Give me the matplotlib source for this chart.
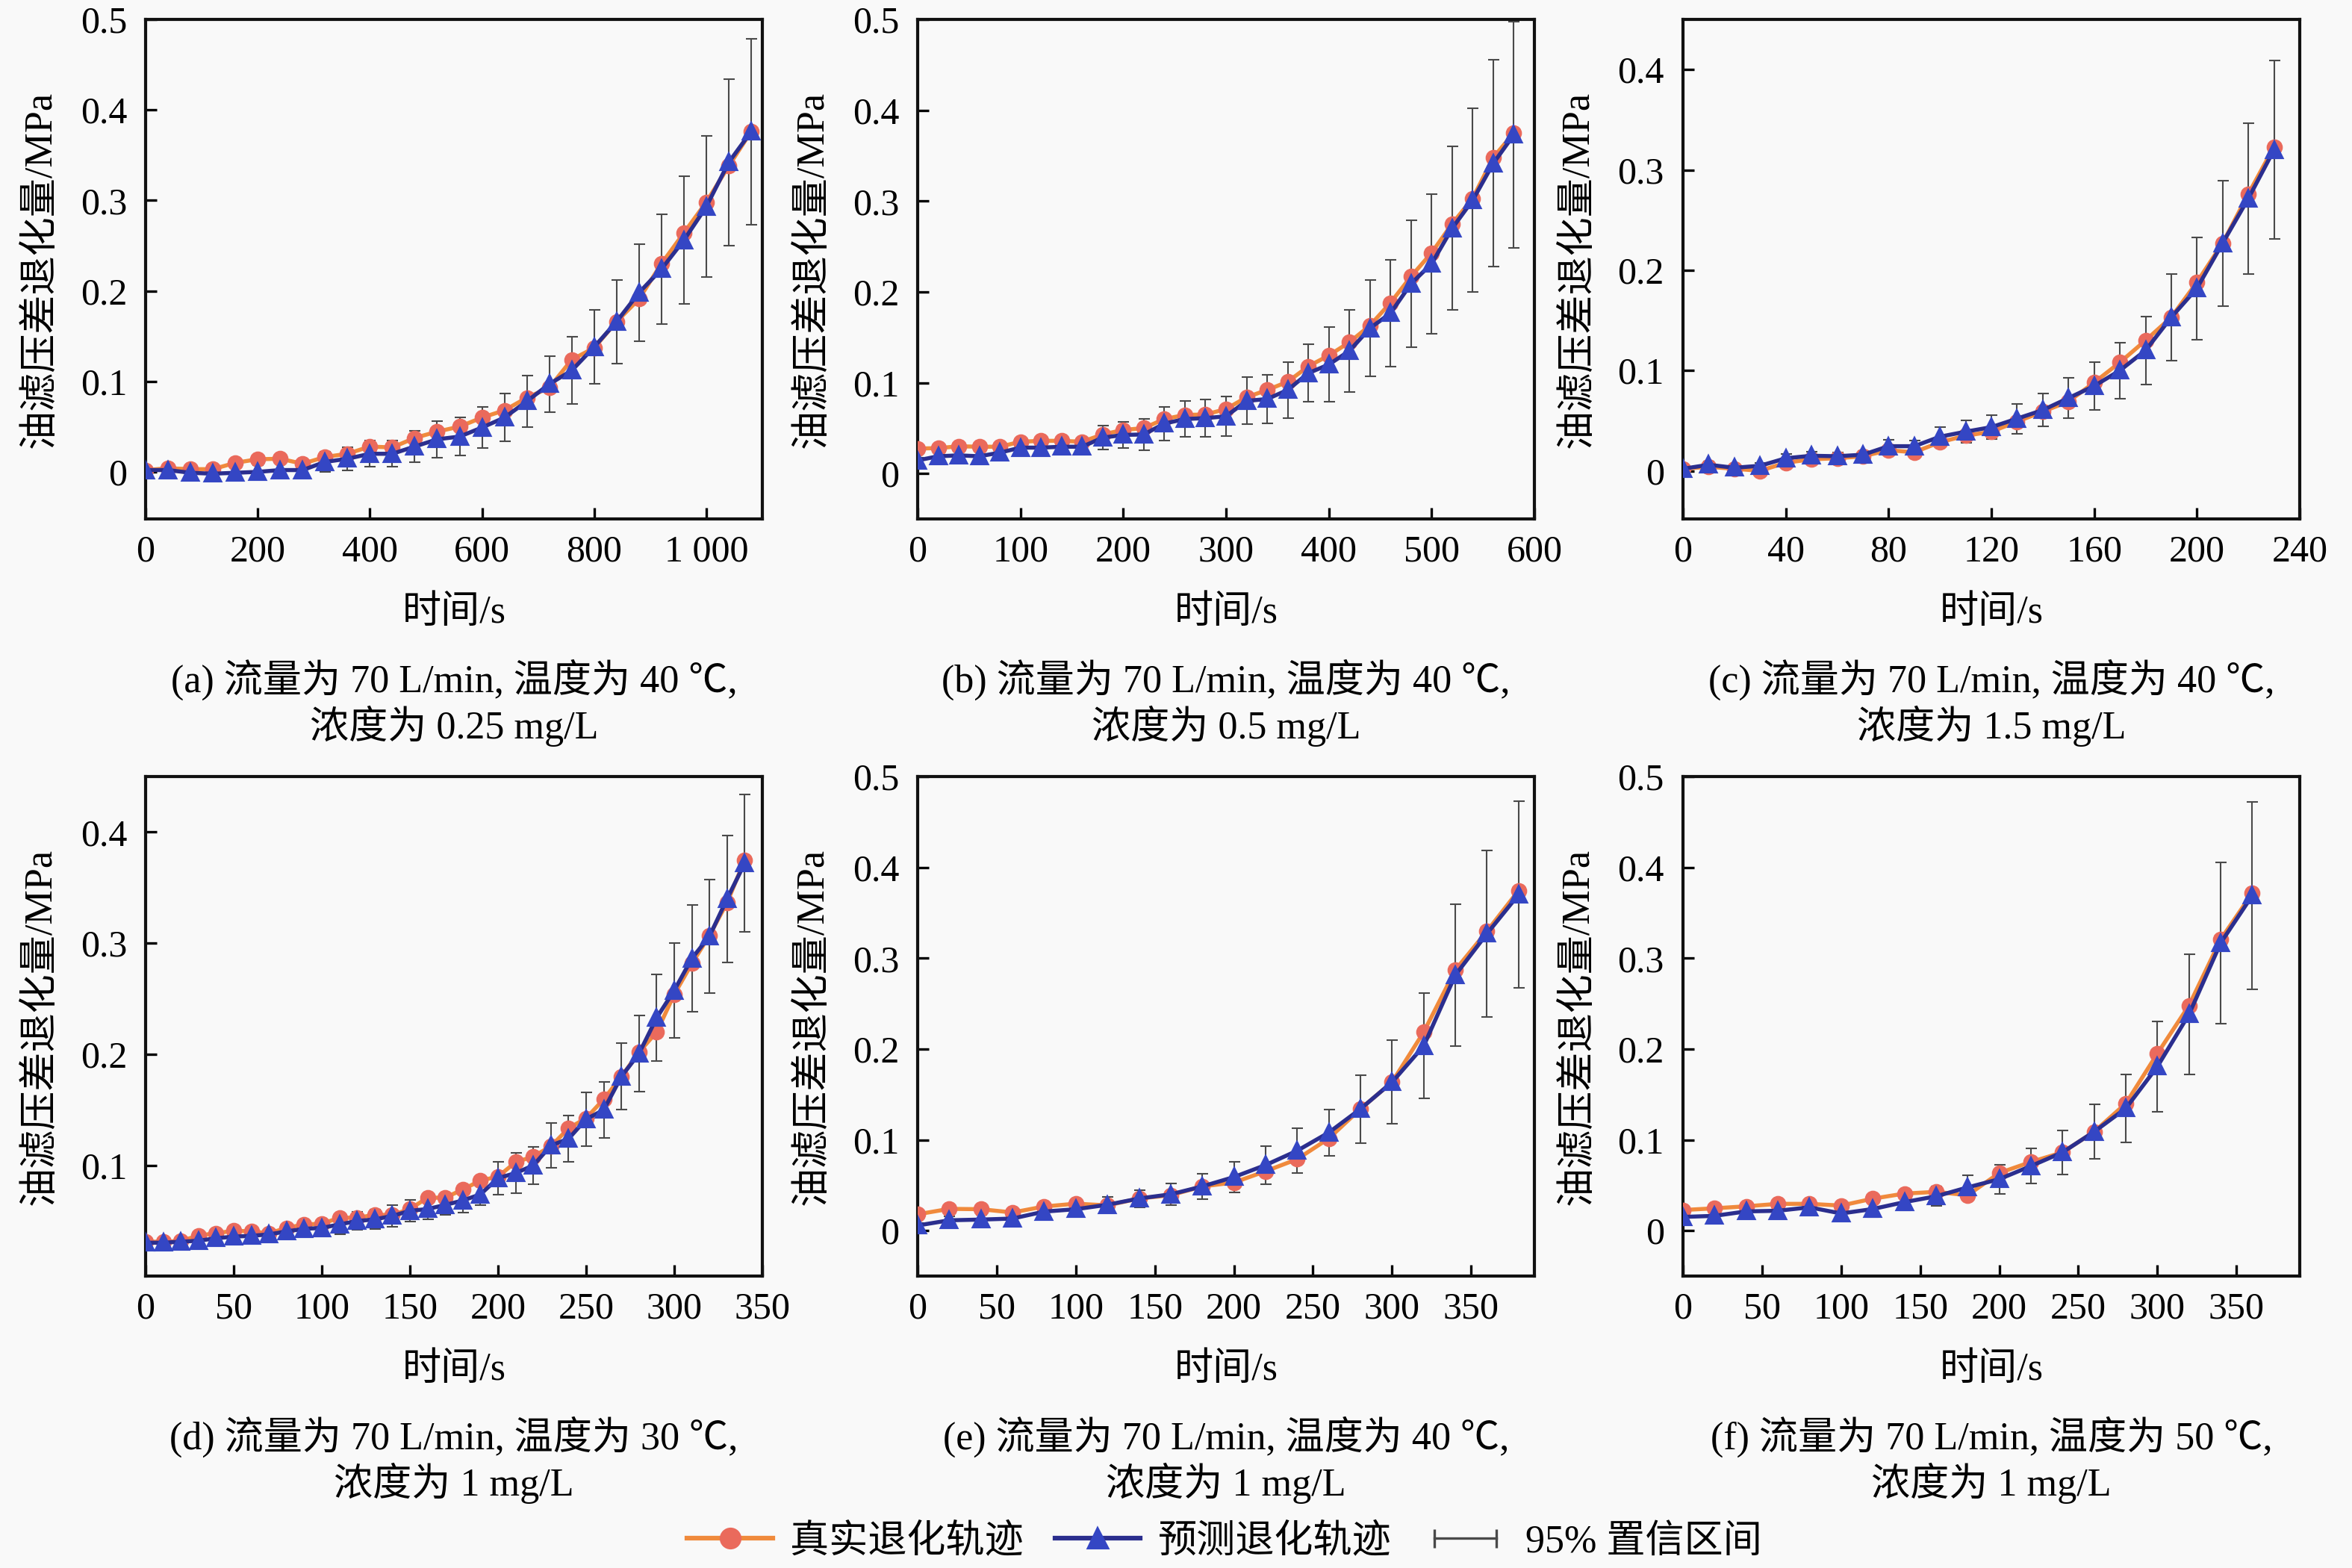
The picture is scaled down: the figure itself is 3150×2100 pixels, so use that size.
import numpy as np
import matplotlib
matplotlib.use("Agg")
import matplotlib.pyplot as plt
from matplotlib.lines import Line2D
from matplotlib.legend_handler import HandlerLine2D
from matplotlib.ticker import FuncFormatter

plt.rcParams['font.family'] = ['Liberation Serif', 'Noto Sans CJK SC']
plt.rcParams['axes.unicode_minus'] = False

# ---------------- data ----------------
t_a = [0, 40, 80, 120, 160, 200, 240, 280, 320, 360, 400, 440, 480, 520, 560, 600,
       640, 680, 720, 760, 800, 840, 880, 920, 960, 1000, 1040, 1080]
true_a = [0.002, 0.004, 0.003, 0.003, 0.010, 0.014, 0.0145, 0.009, 0.0165, 0.020, 0.028, 0.027,
          0.0375, 0.0445, 0.050, 0.060, 0.068, 0.082, 0.093, 0.124, 0.137, 0.166, 0.191, 0.230,
          0.264, 0.298, 0.338, 0.376]
pred_a = [0.002, 0.002, -0.001, -0.002, -0.001, 0.000, 0.002, 0.002, 0.011, 0.0145, 0.020, 0.020,
          0.028, 0.036, 0.039, 0.049, 0.060, 0.078, 0.097, 0.112, 0.138, 0.166, 0.198, 0.224,
          0.256, 0.293, 0.342, 0.376]
err_a = [0.0, 0.003, 0.005, 0.005, 0.006, 0.007, 0.008, 0.009, 0.011, 0.013, 0.0145, 0.0145,
         0.0175, 0.020, 0.021, 0.0225, 0.0265, 0.0285, 0.031, 0.037, 0.041, 0.046, 0.054, 0.0605,
         0.0705, 0.078, 0.092, 0.1025]

t_b = [0, 20, 40, 60, 80, 100, 120, 140, 160, 180, 200, 220, 240, 260, 280, 300, 320, 340,
       360, 380, 400, 420, 440, 460, 480, 500, 520, 540, 560, 580]
true_b = [0.0275, 0.028, 0.030, 0.0295, 0.0295, 0.035, 0.036, 0.036, 0.035, 0.043, 0.048, 0.050,
          0.060, 0.0645, 0.065, 0.071, 0.084, 0.092, 0.101, 0.118, 0.130, 0.1445, 0.163, 0.188,
          0.217, 0.243, 0.275, 0.303, 0.348, 0.375]
pred_b = [0.0145, 0.019, 0.020, 0.019, 0.023, 0.0285, 0.0285, 0.0295, 0.0295, 0.0395, 0.0425,
          0.043, 0.055, 0.060, 0.061, 0.063, 0.080, 0.082, 0.092, 0.1105, 0.120, 0.135, 0.160,
          0.1765, 0.209, 0.231, 0.270, 0.301, 0.3415, 0.373]
err_b = [0.003, 0.005, 0.005, 0.006, 0.006, 0.007, 0.007, 0.007, 0.007, 0.013, 0.014, 0.017,
         0.0185, 0.0195, 0.0205, 0.0215, 0.026, 0.027, 0.031, 0.0315, 0.041, 0.045, 0.053, 0.059,
         0.070, 0.077, 0.090, 0.101, 0.114, 0.1245]

t_c = [0, 10, 20, 30, 40, 50, 60, 70, 80, 90, 100, 110, 120, 130, 140, 150, 160, 170, 180,
       190, 200, 210, 220, 230]
true_c = [0.002, 0.004, 0.002, 0.000, 0.008, 0.0115, 0.0125, 0.0145, 0.0205, 0.0185, 0.0285,
          0.035, 0.039, 0.049, 0.059, 0.069, 0.088, 0.108, 0.130, 0.153, 0.188, 0.227, 0.276, 0.323]
pred_c = [0.002, 0.006, 0.003, 0.005, 0.0125, 0.015, 0.0145, 0.016, 0.0245, 0.0245, 0.034, 0.039,
          0.0435, 0.052, 0.0605, 0.0725, 0.0845, 0.100, 0.120, 0.153, 0.182, 0.227, 0.2715, 0.320]
err_c = [0.002, 0.003, 0.003, 0.003, 0.004, 0.004, 0.004, 0.004, 0.0065, 0.006, 0.0095, 0.011,
         0.012, 0.015, 0.0165, 0.020, 0.024, 0.028, 0.034, 0.043, 0.051, 0.0625, 0.075, 0.089]

t_d = [0, 10, 20, 30, 40, 50, 60, 70, 80, 90, 100, 110, 120, 130, 140, 150, 160, 170, 180,
       190, 200, 210, 220, 230, 240, 250, 260, 270, 280, 290, 300, 310, 320, 330, 340]
true_d = [0.0314, 0.0314, 0.032, 0.037, 0.039, 0.0413, 0.0407, 0.039, 0.0438, 0.047, 0.0475,
          0.053, 0.053, 0.0555, 0.0555, 0.0608, 0.071, 0.071, 0.0784, 0.0864, 0.090, 0.103, 0.108,
          0.1173, 0.1334, 0.1426, 0.1596, 0.180, 0.202, 0.220, 0.254, 0.2817, 0.307, 0.3366, 0.375]
pred_d = [0.0305, 0.0305, 0.0314, 0.0323, 0.0345, 0.036, 0.0367, 0.038, 0.0407, 0.043, 0.0438,
          0.047, 0.050, 0.0515, 0.0546, 0.0592, 0.0608, 0.0645, 0.0685, 0.074, 0.0886, 0.0932,
          0.100, 0.118, 0.124, 0.1417, 0.150, 0.180, 0.2007, 0.2328, 0.2575, 0.2863, 0.3063,
          0.340, 0.372]
err_d = [0.003, 0.003, 0.004, 0.004, 0.005, 0.005, 0.005, 0.005, 0.006, 0.006, 0.006, 0.009,
         0.008, 0.009, 0.0095, 0.0095, 0.009, 0.009, 0.011, 0.010, 0.015, 0.018, 0.017, 0.020,
         0.021, 0.024, 0.025, 0.030, 0.034, 0.039, 0.043, 0.048, 0.051, 0.057, 0.062]

t_e = [0, 20, 40, 60, 80, 100, 120, 140, 160, 180, 200, 220, 240, 260, 280, 300, 320, 340,
       360, 380]
true_e = [0.018, 0.024, 0.0236, 0.020, 0.0266, 0.0297, 0.0278, 0.0354, 0.039, 0.0487, 0.053,
          0.0654, 0.0787, 0.1015, 0.134, 0.1635, 0.2186, 0.287, 0.3297, 0.3745]
pred_e = [0.0057, 0.0114, 0.0122, 0.0133, 0.021, 0.0236, 0.0285, 0.0354, 0.040, 0.0487, 0.059,
          0.0722, 0.088, 0.108, 0.134, 0.1635, 0.2034, 0.2814, 0.327, 0.370]
err_e = [0.003, 0.004, 0.005, 0.005, 0.005, 0.006, 0.0085, 0.0095, 0.012, 0.0143, 0.0167, 0.021,
         0.0247, 0.0255, 0.0375, 0.046, 0.058, 0.078, 0.092, 0.103]

t_f = [0, 20, 40, 60, 80, 100, 120, 140, 160, 180, 200, 220, 240, 260, 280, 300, 320, 340, 360]
true_f = [0.0227, 0.0246, 0.0268, 0.0295, 0.0295, 0.0276, 0.0352, 0.0408, 0.0427, 0.039, 0.0635,
          0.0756, 0.0862, 0.1089, 0.140, 0.195, 0.248, 0.3206, 0.3716]
pred_f = [0.0151, 0.0163, 0.0212, 0.0219, 0.0257, 0.0189, 0.0238, 0.0314, 0.0378, 0.0476,
          0.0567, 0.0711, 0.0862, 0.1089, 0.1346, 0.1807, 0.2382, 0.3168, 0.369]
err_f = [0.003, 0.004, 0.005, 0.005, 0.006, 0.006, 0.0088, 0.009, 0.0106, 0.013, 0.016, 0.0195,
         0.024, 0.030, 0.0376, 0.050, 0.066, 0.089, 0.103]

captions = [
    ("(a) 流量为 70 L/min, 温度为 40 ℃,", "浓度为 0.25 mg/L"),
    ("(b) 流量为 70 L/min, 温度为 40 ℃,", "浓度为 0.5 mg/L"),
    ("(c) 流量为 70 L/min, 温度为 40 ℃,", "浓度为 1.5 mg/L"),
    ("(d) 流量为 70 L/min, 温度为 30 ℃,", "浓度为 1 mg/L"),
    ("(e) 流量为 70 L/min, 温度为 40 ℃,", "浓度为 1 mg/L"),
    ("(f) 流量为 70 L/min, 温度为 50 ℃,", "浓度为 1 mg/L"),
]
xticks_list = [[0, 200, 400, 600, 800, 1000],
               [0, 100, 200, 300, 400, 500, 600],
               [0, 40, 80, 120, 160, 200, 240],
               [0, 50, 100, 150, 200, 250, 300, 350],
               [0, 50, 100, 150, 200, 250, 300, 350],
               [0, 50, 100, 150, 200, 250, 300, 350]]
yticks_list = [[0, 0.1, 0.2, 0.3, 0.4, 0.5],
               [0, 0.1, 0.2, 0.3, 0.4, 0.5],
               [0, 0.1, 0.2, 0.3, 0.4],
               [0.1, 0.2, 0.3, 0.4],
               [0, 0.1, 0.2, 0.3, 0.4, 0.5],
               [0, 0.1, 0.2, 0.3, 0.4, 0.5]]
xlims = [(0, 1100), (0, 600), (0, 240), (0, 350), (0, 390), (0, 390)]
ylims = [(-0.052, 0.5), (-0.05, 0.5), (-0.048, 0.45), (0.0005, 0.45), (-0.05, 0.5), (-0.05, 0.5)]

y_label = "油滤压差退化量/MPa"
x_label = "时间/s"
legend_labels = ["真实退化轨迹", "预测退化轨迹", "95% 置信区间"]

series = [(t_a, true_a, pred_a, err_a), (t_b, true_b, pred_b, err_b), (t_c, true_c, pred_c, err_c),
          (t_d, true_d, pred_d, err_d), (t_e, true_e, pred_e, err_e), (t_f, true_f, pred_f, err_f)]

# ---------------- style ----------------
BG = '#f9f9f9'
C_TRUE_LINE = '#F08A3C'
C_TRUE_MK = '#EA6A5C'
C_PRED_LINE = '#2B2E8E'
C_PRED_MK = '#3446C4'
C_ERR = '#4a4a4a'
FS_TICK = 12
FS_TEXT = 12.5

W, H = 3150, 2100
fig = plt.figure(figsize=(10.5, 7), dpi=300, facecolor=BG)

col_left = [195, 1229, 2254]
ax_w = 826
row_top = [26, 1040]
ax_h = 669

def fmt_y(v, pos):
    if abs(v) < 1e-9:
        return "0"
    return f"{v:.1f}"

def fmt_x(v, pos):
    return f"{int(round(v)):,}".replace(",", " ")

for i, (t, tr, pr, er) in enumerate(series):
    r, c = divmod(i, 3)
    left = col_left[c] / W
    bottom = 1 - (row_top[r] + ax_h) / H
    ax = fig.add_axes([left, bottom, ax_w / W, ax_h / H], facecolor=BG)

    ax.errorbar(t, pr, yerr=er, fmt='none', ecolor=C_ERR, elinewidth=0.5,
                capsize=1.8, capthick=0.5, zorder=2)
    ax.plot(t, tr, color=C_TRUE_LINE, lw=1.3, marker='o', ms=4.2, mfc=C_TRUE_MK,
            mec=C_TRUE_MK, zorder=3)
    ax.plot(t, pr, color=C_PRED_LINE, lw=1.3, marker='^', ms=4.7, mfc=C_PRED_MK,
            mec=C_PRED_MK, zorder=4)

    ax.set_xlim(*xlims[i])
    ax.set_ylim(*ylims[i])
    ax.set_xticks(xticks_list[i])
    ax.set_yticks(yticks_list[i])
    ax.xaxis.set_major_formatter(FuncFormatter(fmt_x))
    ax.yaxis.set_major_formatter(FuncFormatter(fmt_y))
    ax.tick_params(direction='in', length=3.5, width=0.8, labelsize=FS_TICK,
                   top=False, right=False)
    ax.tick_params(axis='x', pad=5)
    ax.tick_params(axis='y', pad=6)
    for sp in ax.spines.values():
        sp.set_linewidth(1.0)
        sp.set_color('#111111')

    ax.set_ylabel(y_label, fontsize=FS_TEXT)
    ax.yaxis.set_label_coords(-0.14, 0.5)
    ax.set_xlabel(x_label, fontsize=FS_TEXT)
    ax.xaxis.set_label_coords(0.5, -0.152)

    cx = (col_left[c] + ax_w / 2) / W
    y1 = 910 + r * 1014
    y2 = 972 + r * 1014
    fig.text(cx, 1 - y1 / H, captions[i][0], ha='center', va='center', fontsize=FS_TEXT)
    fig.text(cx, 1 - y2 / H, captions[i][1], ha='center', va='center', fontsize=FS_TEXT)

# legend
h_true = Line2D([], [], color=C_TRUE_LINE, lw=1.5, marker='o', ms=6, mfc=C_TRUE_MK, mec=C_TRUE_MK)
h_pred = Line2D([], [], color=C_PRED_LINE, lw=1.5, marker='^', ms=6, mfc=C_PRED_MK, mec=C_PRED_MK)
h_ci = Line2D([], [], color=C_ERR, lw=0.8, marker='|', ms=6, mew=0.8)
fig.legend([h_true, h_pred, h_ci], legend_labels, loc='center', bbox_to_anchor=(0.5207, 0.0167),
           ncol=3, frameon=False, fontsize=FS_TEXT, handlelength=2.2, handletextpad=0.45,
           columnspacing=0.8, handler_map={h_ci: HandlerLine2D(numpoints=2),
                                           h_true: HandlerLine2D(numpoints=1),
                                           h_pred: HandlerLine2D(numpoints=1)})

fig.savefig("out.png", dpi=300, facecolor=BG)
